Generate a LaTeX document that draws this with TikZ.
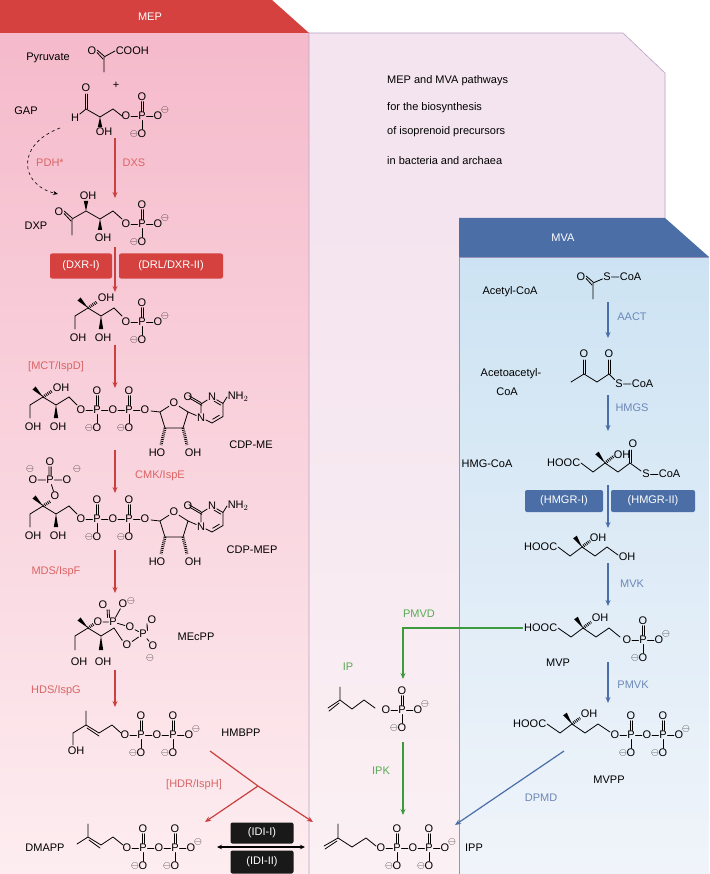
\documentclass[tikz,border=0pt]{standalone}
\usepackage{fontspec}
\setmainfont{Liberation Sans}
\usetikzlibrary{arrows.meta,calc}
\definecolor{redH}{HTML}{D4413F}
\definecolor{redA}{HTML}{C9403F}
\definecolor{redL}{HTML}{DB6464}
\definecolor{blueH}{HTML}{4B6EA6}
\definecolor{blueA}{HTML}{4A6FA8}
\definecolor{blueL}{HTML}{6C87B8}
\definecolor{grn}{HTML}{3C9B3C}
\definecolor{grnL}{HTML}{5AAA55}
\definecolor{pinkT}{HTML}{F5BACB}
\definecolor{pinkB}{HTML}{FDEDF0}
\definecolor{lav}{HTML}{F4E4EF}
\definecolor{lavB}{HTML}{FBF0F3}
\definecolor{bluT}{HTML}{CDE3F3}
\definecolor{bluB}{HTML}{F0F4FA}
\definecolor{edge}{HTML}{B9A2C2}
\newcommand\fs{\fontsize{11}{12}\selectfont}
\tikzset{
 atm/.style={inner sep=0.6pt,font=\fs},
 chg/.style={inner sep=0pt,font=\fontsize{10}{10}\selectfont},
 bd/.style={line width=0.8pt,line cap=round},
 lbl/.style={font=\fs,inner sep=0pt},
 rlab/.style={font=\fs,inner sep=0pt,text=redL},
 blab/.style={font=\fs,inner sep=0pt,text=blueL},
 glab/.style={font=\fs,inner sep=0pt,text=grnL},
 rarr/.style={draw=redA,line width=1.2pt,-{Stealth[length=6pt,width=5pt]}},
 barr/.style={draw=blueA,line width=1.2pt,-{Stealth[length=6pt,width=5pt]}},
 garr/.style={draw=grn,line width=1.2pt,-{Stealth[length=6pt,width=5pt]}},
 rbox/.style={fill=redH,rounded corners=2pt,text=white,font=\fs,inner sep=0pt},
 bbox/.style={fill=blueH,rounded corners=2pt,text=white,font=\fs,inner sep=0pt},
 kbox/.style={fill=black!90,rounded corners=2pt,text=white,font=\fs,inner sep=0pt},
}
\newcommand\M[2]{\node[chg] at (#1,#2) {$\ominus$};}
\newcommand\wdg[2]{\fill #1 -- ($#2!2.2pt!90:#1$) -- ($#2!2.2pt!-90:#1$) -- cycle;}
\newcommand\hsh[2]{\draw[line width=3pt,dash pattern=on 0.8pt off 1.1pt] #1 -- #2;}
\newcommand\punit[1]{%
 \node[atm](pP) at (#1+16,0){P}; \node[atm](pT) at (#1+16,-19){O}; \node[atm](pB) at (#1+16,18){O};
 \M{#1+8}{18}
 \draw[bd] (pP)--(pB) ([xshift=-1.1pt]pP.north)--([xshift=-1.1pt]pT.south) ([xshift=1.1pt]pP.north)--([xshift=1.1pt]pT.south);}
\newcommand\monoP[2]{\begin{scope}[shift={(#1,#2)}]
 \node[atm](q0) at (0,0){O}; \node[atm](q1) at (32,0){O}; \M{39}{-6}
 \punit{0} \draw[bd] (q0)--(pP)--(q1);
\end{scope}}
\newcommand\diP[3]{\begin{scope}[shift={(#1,#2)}]
 \node[atm](q0) at (0,0){O}; \node[atm](q1) at (32,0){O}; \node[atm](q2) at (64,0){O};
 \punit{0} \draw[bd] (q0)--(pP)--(q1);
 \punit{32} \draw[bd] (q1)--(pP)--(q2);
 \ifnum#3=1 \M{71}{-6}\fi
\end{scope}}
\newcommand\mebb[2]{\begin{scope}[shift={(#1,#2)}]
 \wdg{(0,0)}{(-9,-9)}
 \draw[bd] (0,0)--(-13,8)--(-13,21) (0,0)--(13,8)--(26,0)--(34,8);
 \wdg{(13,8)}{(13,21)}
 \node[atm] at (-10,30){OH}; \node[atm] at (15,30){OH};
\end{scope}}
\newcommand\cyt[2]{\begin{scope}[shift={(#1,#2)}]
 \node[atm](ro) at (0,-13){O};
 \coordinate (rR) at (14,-4); \coordinate (rBR) at (9,12); \coordinate (rBL) at (-9,12); \coordinate (rL) at (-14,-4);
 \draw[bd] (rL)--(ro)--(rR)--(rBR)--(rBL)--(rL) (rL)--(-23,-5);
 \hsh{(rBL)}{(-13,29)} \hsh{(rBR)}{(13,29)}
 \node[atm] at (-17,37){HO}; \node[atm] at (19,37){OH};
 \node[atm](n1) at (27,1.5){N}; \node[atm](n3) at (38,-19){N};
 \coordinate (c2) at (27,-12); \coordinate (c4) at (49,-12.5); \coordinate (c5) at (49,0.5); \coordinate (c6) at (38,7);
 \node[atm](co) at (14,-19){O}; \node[atm,anchor=west](nh) at (53,-19){NH$_2$};
 \draw[bd] (rR)--(n1)--(c2)--(n3)--(c4)--(c5)--(c6)--(n1) (c4)--(nh.west);
 \draw[bd] ($(c5)!0.2!(c6)+(-1.5,-2.5)$)--($(c6)!0.2!(c5)+(-1.5,-2.5)$);
 \draw[bd] ($(n3)!0.3!(c4)+(-1.2,2.2)$)--($(c4)!0.1!(n3)+(-1.2,2.2)$);
 \draw[bd] ($(c2)+(0,-1.3)$)--($(co)+(1,-1.3)$) ($(c2)+(0.8,1.3)$)--($(co)+(1.8,1.3)$);
\end{scope}}
\begin{document}
\begin{tikzpicture}[x=1pt,y=-1pt]
\useasboundingbox (0,0) rectangle (709,874);
\fill[white] (0,0) rectangle (709,874);
\shade[top color=pinkT,bottom color=pinkB] (0,33) rectangle (309,874);
\fill[lav] (309,33)--(623,33)--(665,73)--(665,218)--(459,218)--(459,874)--(309,874)--cycle;
\shade[top color=lav,bottom color=lavB] (309,218) rectangle (459,874);
\draw[edge,line width=0.6pt] (309,874)--(309,33)--(623,33)--(665,73)--(665,218);
\fill[redH] (0,0)--(272,0)--(309,33)--(0,33)--cycle;
\node[font=\fs,text=white] (mep) at (150,17) {MEP};
\shade[top color=bluT,bottom color=bluB] (459,257) rectangle (709,874);
\draw[edge!70!blueA,line width=0.5pt] (459,874)--(459,257)--(709,257);
\fill[blueH] (459,218)--(665,218)--(709,257)--(459,257)--cycle;
\node[font=\fs,text=white] (mva) at (563,238) {MVA};
\node[lbl,anchor=west] (t1) at (387,81) {MEP and MVA pathways};
\node[lbl,anchor=west] (t2) at (387,108) {for the biosynthesis};
\node[lbl,anchor=west] (t3) at (387,132) {of isoprenoid precursors};
\node[lbl,anchor=west] (t4) at (387,161) {in bacteria and archaea};
% ---------- MEP pathway
\node[lbl] (lpyr) at (48,58) {Pyruvate};
\node[atm](a) at (92,51){O}; \node[atm,anchor=west](b) at (115,51){COOH};
\draw[bd] (a.east)++(0,-1)--(104,56) (a.east)++(0,1.5)--(103,59);
\draw[bd] (104,57)--(b.west) (104,57)--(104,72);
\node[lbl] (plus) at (116,85) {+};
\node[lbl] (lgap) at (26,111) {GAP};
\node[atm](a) at (86,88){O}; \node[atm](h) at (75,118){H};
\draw[bd] (h)--(86,109)--(100,117)--(113,109)--(122,116);
\draw[bd] (85,109)--(85,94) (87.3,109)--(87.3,94);
\wdg{(100,117)}{(100,127)} \node[atm] at (104,132){OH};
\monoP{126}{116}
\draw[rarr] (115,138)--(115,198); \node[rlab] (dxs) at (134,163){DXS};
\draw[dashed,line width=0.6pt,-{Stealth[length=5pt,width=4pt]}] (60,128) .. controls (15,145) and (20,185) .. (58,194);
\node[rlab] (pdh) at (50,163){PDH*};
\node[lbl] (ldxp) at (36,226){DXP};
\node[atm](a) at (59,212){O};
\draw[bd] (a.east)++(0,-1)--(72,218) (a.east)++(0,1.5)--(71,221);
\draw[bd] (72,219)--(72,235) (72,219)--(86,211)--(100,219)--(113,211)--(122,219);
\wdg{(86,211)}{(86,201)} \node[atm] at (88,196){OH};
\wdg{(100,219)}{(100,230)} \node[atm] at (103,238){OH};
\monoP{126}{224}
\node[rbox,minimum width=62pt,minimum height=25pt] (dxr1) at (81,266){(DXR-I)};
\node[rbox,minimum width=104pt,minimum height=25pt] (dxr2) at (171,266){(DRL/DXR-II)};
\draw[rarr] (115,247)--(115,292);
\mebb{88}{308}
\hsh{(88,308)}{(97,302)} \node[atm] at (106,298){OH};
\monoP{126}{322}
\draw[rarr] (115,345)--(115,388); \node[rlab] (mct) at (56,367){[MCT/IspD]};
\mebb{43}{397}
\hsh{(43,397)}{(52,391)} \node[atm] at (61,388){OH};
\diP{81}{410}{0}
\cyt{174}{416}
\node[lbl] (lcdpme) at (251,445){CDP-ME};
\draw[rarr] (115,450)--(115,493); \node[rlab] (cmk) at (160,476){CMK/IspE};
\mebb{43}{506}
\hsh{(43,506)}{(51,501)} \node[atm](ox) at (55,496){O};
\node[atm](px) at (50,480){P}; \node[atm](oa) at (33,480){O}; \node[atm](ob) at (67,480){O}; \node[atm](oc) at (50,462){O};
\M{30}{469} \M{77}{469}
\draw[bd] (oa)--(px)--(ob) (px)--(ox) ([xshift=-1.1pt]px.north)--([xshift=-1.1pt]oc.south) ([xshift=1.1pt]px.north)--([xshift=1.1pt]oc.south);
\diP{81}{519}{0}
\cyt{174}{525}
\node[lbl] (lcdpmep) at (252,550){CDP-MEP};
\draw[rarr] (115,550)--(115,593); \node[rlab] (mds) at (56,572){MDS/IspF};
\begin{scope}[shift={(88,628)}]
 \wdg{(0,0)}{(-9,-9)}
 \draw[bd] (0,0)--(-13,8)--(-13,22) (0,0)--(13,8)--(26,0)--(34,12);
 \wdg{(13,8)}{(13,22)}
 \node[atm] at (-9,34){OH}; \node[atm] at (15,34){OH};
 \hsh{(0,0)}{(6,-4)}
 \node[atm](o1) at (10,-6){O}; \node[atm](p1) at (25,-6){P}; \node[atm](o2) at (15,-23){O};
 \node[atm](o3) at (35,-24){O}; \M{43}{-27}
 \node[atm](o4) at (42,-1){O}; \node[atm](p2) at (55,6){P}; \node[atm](o5) at (64,-8){O};
 \node[atm](o6) at (65,18){O}; \M{62}{30} \node[atm](o7) at (39,17){O};
 \draw[bd] (o1)--(p1)--(o3) (p1)--(o4)--(p2)--(o6) (p2)--(o7)--(34,12);
 \draw[bd] ([xshift=-1pt]p1.north west)--([xshift=-1pt]o2.south east) ([xshift=1pt]p1.north west)--([xshift=1pt]o2.south east);
 \draw[bd] ([yshift=-1pt]p2.north east)--([yshift=-1pt]o5.south west) ([yshift=1pt]p2.north east)--([yshift=1pt]o5.south west);
\end{scope}
\node[lbl] (lmecpp) at (196,637){MEcPP};
\draw[rarr] (115,670)--(115,707); \node[rlab] (hds) at (56,691){HDS/IspG};
\draw[bd] (86,711)--(86,725)--(73,733)--(73,745) (86,725)--(99,733)--(112,725)--(121,733);
\draw[bd] (87,728)--(99,736);
\node[atm] at (76,751){OH};
\diP{125}{735}{1}
\node[lbl] (lhmbpp) at (241,733){HMBPP};
\node[rlab] (hdr) at (194,785){[HDR/IspH]};
\coordinate (br) at (258,786);
\draw[draw=redA,line width=1.2pt] (210,751)--(br);
\draw[rarr] (br)--(313,822);
\draw[rarr] (br)--(205,822);
\node[lbl] (ldmapp) at (45,848){DMAPP};
\draw[bd] (77,844)--(88,837)--(88,824) (88,837)--(101,845)--(113,837)--(123,845);
\draw[bd] (89,840)--(100,848);
\diP{127}{848}{1}
\node[kbox,minimum width=63pt,minimum height=21pt] (idi1) at (262,833){(IDI-I)};
\node[kbox,minimum width=63pt,minimum height=23pt] (idi2) at (262,862){(IDI-II)};
\draw[line width=1.2pt,{Stealth[length=5pt,width=4.5pt]}-{Stealth[length=5pt,width=4.5pt]}] (217,847)--(305,847);
\draw[bd] (338,824)--(338,838)--(352,847)--(366,838)--(376,846) (338,838)--(324,846);
\draw[bd] (337,841)--(325,849);
\diP{381}{848}{1}
\node[lbl] (lipp) at (474,848){IPP};
% ---------- MVA pathway
\node[lbl] (lacc) at (510,292){Acetyl-CoA};
\node[atm](a) at (581,277){O}; \node[atm](s) at (607,277){S}; \node[atm,anchor=west](coa) at (619,277){CoA};
\draw[bd] (a.east)++(0,-1)--(593,282) (a.east)++(0,1.5)--(592,285);
\draw[bd] (593,283)--(593,299) (593,283)--(s) (s)--(coa.west);
\draw[barr] (608,302)--(608,338); \node[blab] (aact) at (632,317){AACT};
\node[lbl] (laa1) at (511,374){Acetoacetyl-}; \node[lbl] (laa2) at (507,392){CoA};
\node[atm](o1) at (584,354){O}; \node[atm](o2) at (609,354){O}; \node[atm](s) at (619,384){S}; \node[atm,anchor=west](coa) at (631,384){CoA};
\draw[bd] (571,382)--(584,374)--(597,382)--(609,374)--(s) (s)--(coa.west);
\draw[bd] (583,374)--(583,360) (585.3,374)--(585.3,360) (608,374)--(608,360) (610.3,374)--(610.3,360);
\draw[barr] (608,395)--(608,431); \node[blab] (hmgs) at (632,408){HMGS};
\node[lbl] (lhmg) at (487,464){HMG-CoA};
\node[atm,anchor=east](h1) at (581,463){HOOC};
\draw[bd] (h1.east)--(593,472)--(605,463)--(618,472)--(630,463)--(641,471);
\wdg{(605,463)}{(597,453)} \hsh{(605,463)}{(614,456)} \node[atm] at (622,455){OH};
\node[atm](o) at (633,444){O}; \node[atm](s) at (646,474){S}; \node[atm,anchor=west](coa) at (658,474){CoA};
\draw[bd] (629,463)--(629,450) (631.3,463)--(631.3,450) (s)--(coa.west);
\node[bbox,minimum width=78pt,minimum height=22pt] (hmgr1) at (564,501){(HMGR-I)};
\node[bbox,minimum width=84pt,minimum height=22pt] (hmgr2) at (653,501){(HMGR-II)};
\draw[barr] (608,485)--(608,528);
\node[atm,anchor=east](h1) at (558,547){HOOC};
\draw[bd] (h1.east)--(570,556)--(582,547)--(595,556)--(607,547)--(618,555);
\wdg{(582,547)}{(575,537)} \hsh{(582,547)}{(590,541)} \node[atm] at (598,538){OH};
\node[atm,anchor=west] at (618,557){OH};
\draw[barr] (608,563)--(608,606); \node[blab] (mvk) at (632,584){MVK};
\node[atm,anchor=east](hv) at (558,628){HOOC};
\draw[bd] (hv.east)--(571,637)--(583,628)--(596,637)--(609,628)--(620,637);
\wdg{(583,628)}{(576,618)} \hsh{(583,628)}{(591,622)} \node[atm] at (600,618){OH};
\monoP{627}{640}
\node[lbl] (lmvp) at (558,663){MVP};
\draw[garr] (hv.west)--(403,628)--(403,679);
\node[glab] (pmvd) at (419,614){PMVD};
\draw[barr] (608,662)--(608,703); \node[blab] (pmvk) at (633,685){PMVK};
\node[glab] (lip) at (348,667){IP};
\draw[bd] (340,687)--(340,700)--(352,709)--(364,700)--(375,708) (340,700)--(328,708);
\draw[bd] (339,703)--(329,711);
\monoP{386}{710}
\draw[garr] (403,742)--(403,815); \node[glab] (ipk) at (381,771){IPK};
\node[atm,anchor=east](hp) at (547,724){HOOC};
\draw[bd] (hp.east)--(560,733)--(572,724)--(585,733)--(598,724)--(610,732);
\wdg{(572,724)}{(565,714)} \hsh{(572,724)}{(580,718)} \node[atm] at (589,714){OH};
\diP{615}{735}{1}
\node[lbl] (lmvpp) at (609,780){MVPP};
\draw[barr] (564,751)--(455,825); \node[blab] (dpmd) at (541,798){DPMD};
\end{tikzpicture}
\end{document}
